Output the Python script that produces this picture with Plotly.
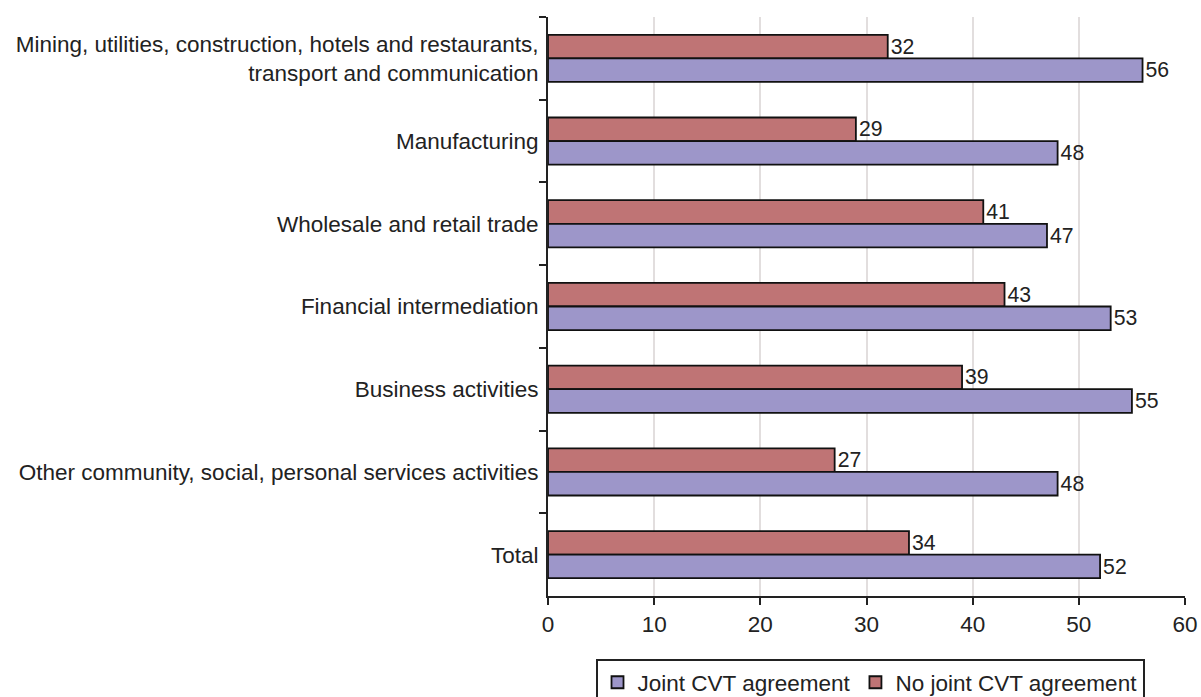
import plotly.graph_objects as go

# Sectors, top to bottom
categories = [
    "Mining, utilities, construction, hotels and restaurants,<br>transport and communication",
    "Manufacturing",
    "Wholesale and retail trade",
    "Financial intermediation",
    "Business activities",
    "Other community, social, personal services activities",
    "Total",
]
joint_cvt = [56, 48, 47, 53, 55, 48, 52]
no_joint_cvt = [32, 29, 41, 43, 39, 27, 34]
series_names = ["Joint CVT agreement", "No joint CVT agreement"]
x_ticks = [0, 10, 20, 30, 40, 50, 60]

FONT = "Liberation Sans, Arial, sans-serif"
FS = 22.5

fig = go.Figure()
# Red series added first so it sits above the blue one in each reversed-axis group
fig.add_trace(go.Bar(
    y=categories, x=no_joint_cvt, name=series_names[1], orientation="h",
    marker=dict(color="#BF7475", line=dict(color="#111111", width=1.8)),
    text=no_joint_cvt, textposition="outside", cliponaxis=False,
    textfont=dict(family=FONT, size=FS, color="#222222"), legendrank=2,
))
fig.add_trace(go.Bar(
    y=categories, x=joint_cvt, name=series_names[0], orientation="h",
    marker=dict(color="#9D96C9", line=dict(color="#111111", width=1.8)),
    text=joint_cvt, textposition="outside", cliponaxis=False,
    textfont=dict(family=FONT, size=FS, color="#222222"), legendrank=1,
))

fig.update_layout(
    width=1201, height=697,
    margin=dict(l=548, r=16, t=17, b=101, autoexpand=False),
    paper_bgcolor="white", plot_bgcolor="white",
    barmode="group", bargap=0.43, bargroupgap=0,
    font=dict(family=FONT, size=FS, color="#222222"),
    showlegend=True,
    legend=dict(
        orientation="h", x=0.5055, xanchor="center", y=-0.109, yanchor="top",
        bordercolor="#222222", borderwidth=2, bgcolor="white",
        font=dict(family=FONT, size=FS, color="#222222"),
        itemwidth=30,
    ),
    xaxis=dict(
        range=[0, 60], tickvals=x_ticks, showgrid=True, gridcolor="#E2DEDE",
        gridwidth=2, zeroline=False, showline=True, linecolor="#222222",
        linewidth=2, ticks="outside", ticklen=7, tickwidth=2,
        tickcolor="#222222", tickfont=dict(size=FS), automargin=False,
    ),
    yaxis=dict(
        autorange="reversed", showline=True, linecolor="#222222", linewidth=2,
        ticks="outside", ticklen=7, tickwidth=2, tickcolor="#222222",
        tickson="boundaries", showgrid=False, tickfont=dict(size=FS),
        automargin=False, ticklabelstandoff=3,
    ),
)

fig.write_html("out.html")
